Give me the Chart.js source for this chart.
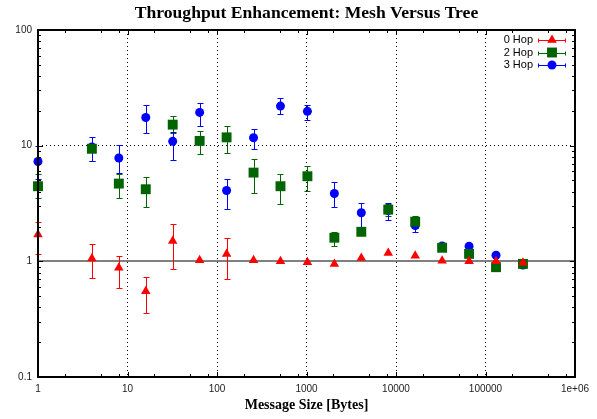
<!DOCTYPE html>
<html lang="en">
<head>
  <meta charset="UTF-8" />
  <title>Throughput Enhancement: Mesh Versus Tree</title>
  <script src="https://cdn.jsdelivr.net/npm/chart.js"></script>
  <style>
    html, body { margin: 0; padding: 0; background: #fff; }
    #wrap { width: 597px; height: 419px; }
  </style>
</head>
<body>
  <div id="wrap"><canvas id="meshChart"></canvas></div>
  <script>
    // message sizes in bytes
    const msgSizes = [1, 4, 8, 16, 32, 64, 128, 256, 512, 1024, 2048, 4096, 8192, 16384, 32768, 65536, 131072, 262144];

    // throughput enhancement, one array per hop count
    const hop0 = [1.71, 1.06, 0.88, 0.55, 1.50, 1.02, 1.16, 1.02, 1.00, 0.98, 0.95, 1.07, 1.18, 1.12, 1.01, 1.00, 1.00, 0.97];
    const hop2 = [4.46, 9.4, 4.7, 4.2, 15.2, 11.0, 11.8, 5.85, 4.46, 5.44, 1.6, 1.8, 2.8, 2.2, 1.31, 1.16, 0.89, 0.95];
    const hop3 = [7.3, 9.75, 7.83, 17.5, 10.9, 19.4, 4.1, 11.7, 22.0, 19.8, 3.86, 2.63, 2.75, 2.04, 1.36, 1.35, 1.13, 0.93];

    // error bar ends (null = no visible bar)
    const hop0Low  = [1.15, 0.72, 0.59, 0.36, 0.86, null, 0.70, null, null, null, null, null, null, null, null, null, null, null];
    const hop0High = [2.18, 1.40, 1.11, 0.73, 2.11, null, 1.59, null, null, null, null, null, null, null, null, null, null, null];
    const hop2Low  = [3.5, 7.3, 3.5, 2.96, 12.8, 8.4, 8.65, 3.86, 3.1, 4.06, 1.37, 1.68, 2.45, 1.95, null, null, null, null];
    const hop2High = [5.7, 10.2, 5.7, 5.4, 17.9, 13.3, 14.7, 7.7, 5.7, 6.7, 1.79, 1.92, 3.15, 2.49, null, null, null, null];
    const hop3Low  = [5.1, 7.3, 5.8, 12.9, 7.5, 14.9, 2.85, 9.4, 18.9, 16.8, 2.96, 2.0, 2.26, 1.81, null, null, null, null];
    const hop3High = [9.9, 12.0, 10.1, 22.4, 13.2, 23.6, 5.2, 13.9, 25.6, 22.4, 4.83, 3.2, 3.2, 2.3, null, null, null, null];

    // axis ticks
    const xTicks = [1, 10, 100, 1000, 10000, 100000, 1000000];
    const xTickLabels = ['1', '10', '100', '1000', '10000', '100000', '1e+06'];
    const yTicks = [0.1, 1, 10, 100];
    const yTickLabels = ['0.1', '1', '10', '100'];

    const chartTitle = 'Throughput Enhancement: Mesh Versus Tree';

    const pts = vals => vals.map((v, i) => ({ x: msgSizes[i], y: v }));

    // title centred over the plot box, like gnuplot does
    const plotTitle = {
      id: 'plotTitle',
      afterDraw(chart) {
        const { ctx, chartArea: a } = chart;
        ctx.save();
        ctx.font = 'bold 17.6px "Liberation Serif", serif';
        ctx.fillStyle = '#000';
        ctx.textAlign = 'center';
        ctx.textBaseline = 'middle';
        ctx.fillText(chartTitle, (a.left + a.right) / 2, 13);
        ctx.restore();
      }
    };

    // gray reference line at enhancement = 1
    const unityLine = {
      id: 'unityLine',
      beforeDatasetsDraw(chart) {
        const { ctx, chartArea, scales: { y } } = chart;
        const py = Math.round(y.getPixelForValue(1));
        ctx.save();
        ctx.strokeStyle = '#808080';
        ctx.lineWidth = 2;
        ctx.beginPath();
        ctx.moveTo(chartArea.left, py);
        ctx.lineTo(chartArea.right, py);
        ctx.stroke();
        ctx.restore();
      }
    };

    // vertical error bars with small caps
    const errorBars = {
      id: 'errorBars',
      beforeDatasetsDraw(chart) {
        const { ctx, scales: { x, y } } = chart;
        ctx.save();
        ctx.lineWidth = 1;
        chart.data.datasets.forEach(ds => {
          ctx.strokeStyle = ds.borderColor;
          ds.low.forEach((lo, i) => {
            const hi = ds.high[i];
            if (lo == null || hi == null) return;
            const px = Math.round(x.getPixelForValue(msgSizes[i])) + 0.5;
            const p1 = Math.round(y.getPixelForValue(lo)) + 0.5;
            const p2 = Math.round(y.getPixelForValue(hi)) + 0.5;
            ctx.beginPath();
            ctx.moveTo(px, p1); ctx.lineTo(px, p2);
            ctx.moveTo(px - 3, p1); ctx.lineTo(px + 3, p1);
            ctx.moveTo(px - 3, p2); ctx.lineTo(px + 3, p2);
            ctx.stroke();
          });
        });
        ctx.restore();
      }
    };

    // box around the plot with inward ticks on all four sides
    const frame = {
      id: 'frame',
      afterDraw(chart) {
        const { ctx, chartArea: a, scales: { x, y } } = chart;
        ctx.save();
        ctx.strokeStyle = '#000';
        ctx.lineWidth = 1;
        ctx.beginPath();
        for (let d = 0; d < xTicks.length; d++) {
          const marks = [[xTicks[d], 5]];
          if (d < xTicks.length - 1) [2, 5, 8].forEach(m => marks.push([xTicks[d] * m, 3]));
          marks.forEach(([v, len]) => {
            const px = Math.round(x.getPixelForValue(v)) + 0.5;
            ctx.moveTo(px, a.bottom); ctx.lineTo(px, a.bottom - len);
            ctx.moveTo(px, a.top); ctx.lineTo(px, a.top + len);
          });
        }
        for (let d = 0; d < yTicks.length; d++) {
          const marks = [[yTicks[d], 5]];
          if (d < yTicks.length - 1) [2, 3, 4, 5, 6, 7, 8, 9].forEach(m => marks.push([yTicks[d] * m, 3]));
          marks.forEach(([v, len]) => {
            const py = Math.round(y.getPixelForValue(v)) + 0.5;
            ctx.moveTo(a.left, py); ctx.lineTo(a.left + len, py);
            ctx.moveTo(a.right, py); ctx.lineTo(a.right - len, py);
          });
        }
        ctx.stroke();
        ctx.lineWidth = 2;
        ctx.strokeRect(a.left, a.top, a.right - a.left, a.bottom - a.top);
        ctx.restore();
      }
    };

    function marker(ctx, style, cx, cy, r) {
      ctx.beginPath();
      if (style === 'circle') {
        ctx.arc(cx, cy, r, 0, Math.PI * 2);
      } else if (style === 'rect') {
        const s = r * Math.SQRT1_2;
        ctx.rect(cx - s, cy - s, 2 * s, 2 * s);
      } else {
        for (let k = 0; k < 3; k++) {
          const ang = k * 2 * Math.PI / 3;
          const px = cx + Math.sin(ang) * r, py = cy - Math.cos(ang) * r;
          k ? ctx.lineTo(px, py) : ctx.moveTo(px, py);
        }
        ctx.closePath();
      }
      ctx.fill();
    }

    // gnuplot style key in the top right corner
    const hopLegend = {
      id: 'hopLegend',
      afterDraw(chart) {
        const { ctx, chartArea: a } = chart;
        ctx.save();
        ctx.font = '11px "Liberation Sans", sans-serif';
        ctx.textAlign = 'right';
        ctx.textBaseline = 'middle';
        chart.data.datasets.forEach((ds, i) => {
          const cy = a.top + 10 + i * 12.5;
          const ly = Math.round(cy) + 0.5;
          ctx.fillStyle = '#000';
          ctx.fillText(ds.label, a.right - 42, cy);
          ctx.strokeStyle = ds.borderColor;
          ctx.lineWidth = 1;
          ctx.beginPath();
          ctx.moveTo(a.right - 37, ly); ctx.lineTo(a.right - 9, ly);
          ctx.moveTo(a.right - 36.5, ly - 2); ctx.lineTo(a.right - 36.5, ly + 2);
          ctx.moveTo(a.right - 9.5, ly - 2); ctx.lineTo(a.right - 9.5, ly + 2);
          ctx.stroke();
          ctx.fillStyle = ds.backgroundColor;
          marker(ctx, ds.pointStyle, a.right - 23, cy, ds.pointRadius);
        });
        ctx.restore();
      }
    };

    const tickFont = { family: '"Liberation Sans", sans-serif', size: 10 };

    new Chart(document.getElementById('meshChart'), {
      type: 'scatter',
      data: {
        datasets: [
          {
            label: '0 Hop', data: pts(hop0), low: hop0Low, high: hop0High,
            backgroundColor: '#ff0000', borderColor: '#ff0000',
            pointStyle: 'triangle', pointRadius: 5.5, borderWidth: 0, clip: false
          },
          {
            label: '2 Hop', data: pts(hop2), low: hop2Low, high: hop2High,
            backgroundColor: '#006400', borderColor: '#006400',
            pointStyle: 'rect', pointRadius: 7, borderWidth: 0, clip: false
          },
          {
            label: '3 Hop', data: pts(hop3), low: hop3Low, high: hop3High,
            backgroundColor: '#0000ff', borderColor: '#0000ff',
            pointStyle: 'circle', pointRadius: 4.5, borderWidth: 0, clip: false
          }
        ]
      },
      options: {
        responsive: true,
        maintainAspectRatio: false,
        animation: false,
        layout: { padding: { left: 0, right: 22, top: 30, bottom: 0 } },
        plugins: {
          legend: { display: false },
          tooltip: { enabled: false },
          title: { display: false }
        },
        scales: {
          x: {
            type: 'logarithmic',
            min: 1,
            max: 1000000,
            afterBuildTicks: s => { s.ticks = xTicks.map(v => ({ value: v })); },
            afterFit: s => { s.height = 42; },
            grid: {
              drawTicks: false,
              color: c => (c.tick && c.tick.value > 1 && c.tick.value < 1000000) ? '#000' : 'rgba(0,0,0,0)',
              lineWidth: 1
            },
            border: { display: false, dash: [1, 3] },
            ticks: {
              autoSkip: false,
              maxRotation: 0,
              padding: 6,
              color: '#222',
              font: tickFont,
              callback: v => { const k = xTicks.indexOf(v); return k >= 0 ? xTickLabels[k] : ''; }
            },
            title: {
              display: true,
              text: 'Message Size [Bytes]',
              color: '#000',
              font: { family: '"Liberation Serif", serif', size: 14, weight: 'bold' },
              padding: { top: 0, bottom: 5 }
            }
          },
          y: {
            type: 'logarithmic',
            min: 0.1,
            max: 100,
            afterBuildTicks: s => { s.ticks = yTicks.map(v => ({ value: v })); },
            afterFit: s => { s.width = 38; },
            grid: {
              drawTicks: false,
              color: c => (c.tick && c.tick.value > 0.1 && c.tick.value < 100) ? '#000' : 'rgba(0,0,0,0)',
              lineWidth: 1
            },
            border: { display: false, dash: [1, 3] },
            ticks: {
              autoSkip: false,
              padding: 6,
              color: '#222',
              font: tickFont,
              callback: v => { const k = yTicks.indexOf(v); return k >= 0 ? yTickLabels[k] : ''; }
            }
          }
        }
      },
      plugins: [plotTitle, unityLine, errorBars, frame, hopLegend]
    });
  </script>
</body>
</html>
